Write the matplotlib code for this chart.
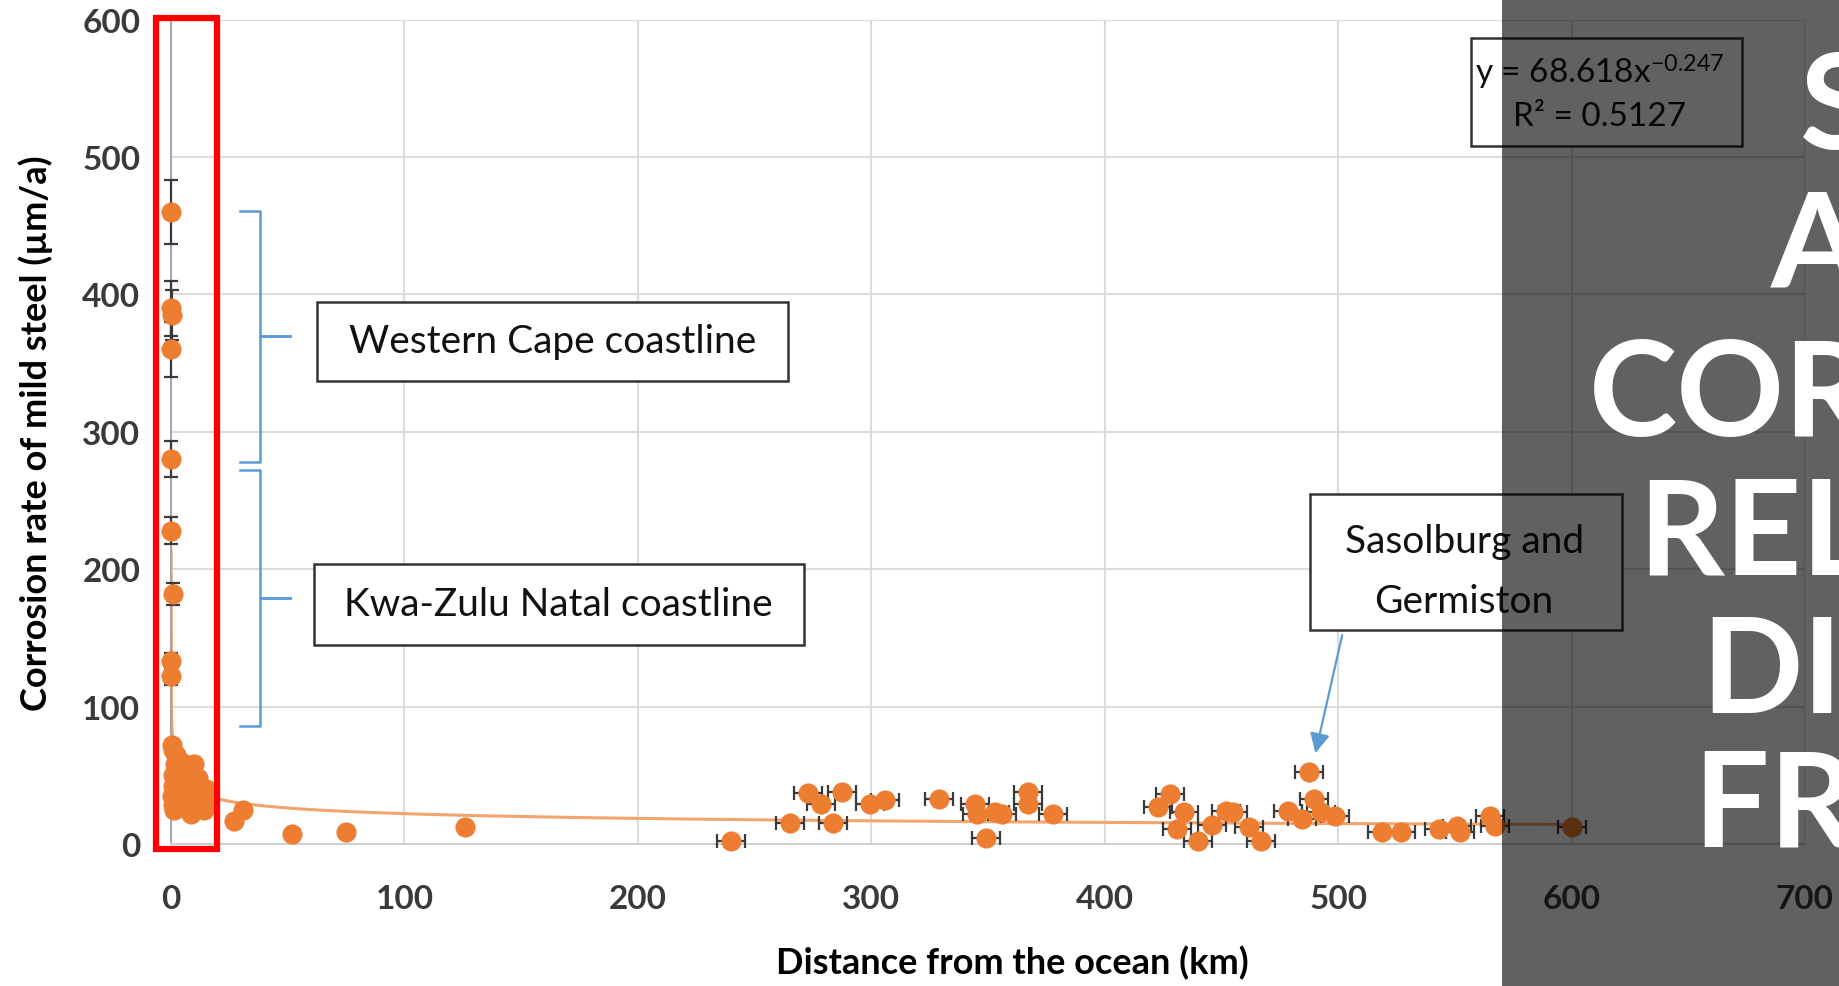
import matplotlib
matplotlib.use("Agg")
import matplotlib.pyplot as plt
import numpy as np
from matplotlib.patches import Rectangle, FancyArrowPatch

# coastal sites (vertical error bars)
coast_x = [0, 0, 0.3, 0, 0, 0, 1, 0, 0.2]
coast_y = [460, 390, 385, 360, 280, 228, 182, 133, 122]
coast_err = [23, 20, 18, 20, 13, 10, 8, 6, 6]

# dense cluster right at the coast
cluster_x = [0.5, 1, 2, 3, 1.5, 4, 6, 0.8, 2.5, 5, 7, 9, 10, 3, 1, 0.6, 4.5, 6.5,
             8, 11, 12, 2, 3.5, 5.5, 7.5, 9.5, 13, 14, 1.2, 0.7, 16, 15, 11.5, 8.5]
cluster_y = [72, 68, 65, 62, 58, 55, 58, 50, 48, 45, 50, 55, 58, 40, 42, 35, 38, 42,
             45, 40, 35, 30, 28, 32, 30, 28, 30, 25, 25, 28, 33, 40, 48, 22]

# a few sites a little inland
near_x = [27, 31, 52, 75, 126]
near_y = [17, 25, 7, 9, 12]

# inland sites (horizontal error bars)
inland_x = [240, 265, 273, 278.6, 283.7, 287.6, 299.6, 306, 329, 344.5, 345.4, 349, 353,
            356, 367, 367, 378, 423, 428, 431, 434, 440, 446, 452, 455, 462, 467, 478.5,
            484.5, 487.6, 489.5, 492.5, 498.7, 518.8, 527, 543, 551, 552, 565, 567, 600]
inland_y = [2, 15, 37, 29, 15, 38, 29, 32, 33, 29, 22, 4, 23,
            22, 38, 29, 22, 27, 36, 11, 23, 2, 14, 24, 23, 12, 2, 24,
            18, 52, 33, 23, 20.6, 8.7, 8.7, 11, 13, 8.7, 20.6, 13, 12]
inland_xerr = 6

# power trend y = a * x^b
fit_a = 68.618
fit_b = -0.247
fit_r2 = 0.5127

x_ticks = [0, 100, 200, 300, 400, 500, 600, 700]
y_ticks = [0, 100, 200, 300, 400, 500, 600]

orange = "#ED7D31"
blue = "#5B9BD5"
errc = "#3a3a3a"

plt.rcParams["font.family"] = ["Lato", "DejaVu Sans"]
plt.rcParams["mathtext.fontset"] = "custom"
plt.rcParams["mathtext.rm"] = "Lato"
plt.rcParams["mathtext.it"] = "Lato"

fig = plt.figure(figsize=(18.39, 9.87), dpi=100)
ax = fig.add_axes([0.093, 0.144, 0.8885, 0.835])

ax.set_xlim(0, 700)
ax.set_ylim(0, 600)
ax.set_xticks(x_ticks)
ax.set_yticks(y_ticks)
ax.grid(True, color="#dcdcdc", lw=1.5)
ax.set_axisbelow(True)
for s in ["top", "right"]:
    ax.spines[s].set_visible(False)
ax.spines["left"].set_color("#a6a6a6")
ax.spines["left"].set_linewidth(1.5)
ax.spines["bottom"].set_color("#d0d0d0")
ax.spines["bottom"].set_linewidth(1.5)
ax.tick_params(length=0, labelsize=24, labelcolor="#3a3a3a")
ax.tick_params(axis="x", pad=29)
ax.tick_params(axis="y", pad=22)
for lab in ax.get_xticklabels() + ax.get_yticklabels():
    lab.set_fontweight("bold")

ax.set_xlabel("Distance from the ocean (km)", fontsize=26, fontweight="bold")
ax.set_ylabel("Corrosion rate of mild steel (\u00b5m/a)", fontsize=26, fontweight="bold")
ax.xaxis.set_label_coords(0.515, -0.122)
ax.yaxis.set_label_coords(-0.072, 0.499)

# trend line
xt = np.linspace(0.01, 600, 3000)
ax.plot(xt, fit_a * xt ** fit_b, color="#F2A36E", lw=2.2, zorder=2)

mk = dict(fmt="o", color=orange, ms=13.5, ecolor=errc, elinewidth=1.6, capsize=5,
          capthick=1.6, clip_on=False, zorder=3)
ax.errorbar(coast_x, coast_y, yerr=coast_err, **mk)
ax.errorbar(inland_x, inland_y, xerr=inland_xerr, **mk)
ax.plot(cluster_x, cluster_y, "o", color=orange, ms=13.5, clip_on=False, zorder=3)
ax.plot(near_x, near_y, "o", color=orange, ms=13.5, clip_on=False, zorder=3)

# braces
def brace(x_end, x_v, x_tip, y_top, y_mid, y_bot):
    ax.plot([x_end, x_v, x_v, x_tip], [y_top, y_top, y_mid, y_mid], color=blue, lw=1.8, zorder=4)
    ax.plot([x_tip, x_v, x_v, x_end], [y_mid, y_mid, y_bot, y_bot], color=blue, lw=1.8, zorder=4)

brace(29.6, 38, 51, 461, 370, 278)
brace(29.6, 38, 51, 272, 179, 86)

# label boxes
def label_box(x0, x1, y0, y1, lines, ys, xc, fs):
    ax.add_patch(Rectangle((x0, y0), x1 - x0, y1 - y0, facecolor="white",
                           edgecolor="#333333", lw=1.8, zorder=5))
    for t, yy in zip(lines, ys):
        ax.text(xc, yy, t, ha="center", va="center", fontsize=fs, color="#111111", zorder=6)

label_box(62.4, 264.5, 337, 394.7, ["Western Cape coastline"], [366], 163.5, 28)
label_box(61.1, 271.3, 145, 204, ["Kwa-Zulu Natal coastline"], [174.5], 166, 28)
label_box(488, 621.6, 155.9, 254.9, ["Sasolburg and", "Germiston"], [220.7, 177], 554, 28)
label_box(556.9, 672.9, 508.4, 587,
          ["y = 68.618x$^{-0.247}$", "R\u00b2 = 0.5127"], [562, 530], 612, 24)

ax.add_patch(FancyArrowPatch((502, 154), (490, 64), arrowstyle="-|>", mutation_scale=30,
                             color=blue, lw=1.6, zorder=5))

# red highlight frame
ax.add_patch(Rectangle((-6.4, -3.6), 26.1, 605.1, fill=False, edgecolor="#FF0000",
                       lw=4.5, clip_on=False, zorder=7))

# dark overlay with title
fig.patches.append(Rectangle((0.817, 0), 0.2, 1, transform=fig.transFigure,
                             facecolor="black", alpha=0.62, zorder=10))
title_lines = ["SALT", "AIR", "CORROSION", "RELATIVE TO", "DISTANCE", "FROM OCEAN"]
title_x = [0.979, 0.963, 0.864, 0.891, 0.925, 0.921]
title_y = [0.849, 0.709, 0.558, 0.417, 0.278, 0.142]
for t, tx, ty in zip(title_lines, title_x, title_y):
    fig.text(tx, ty, t, color="white", fontsize=96, fontweight="bold",
             ha="left", va="baseline", zorder=11)

fig.savefig("out.png", dpi=100)
